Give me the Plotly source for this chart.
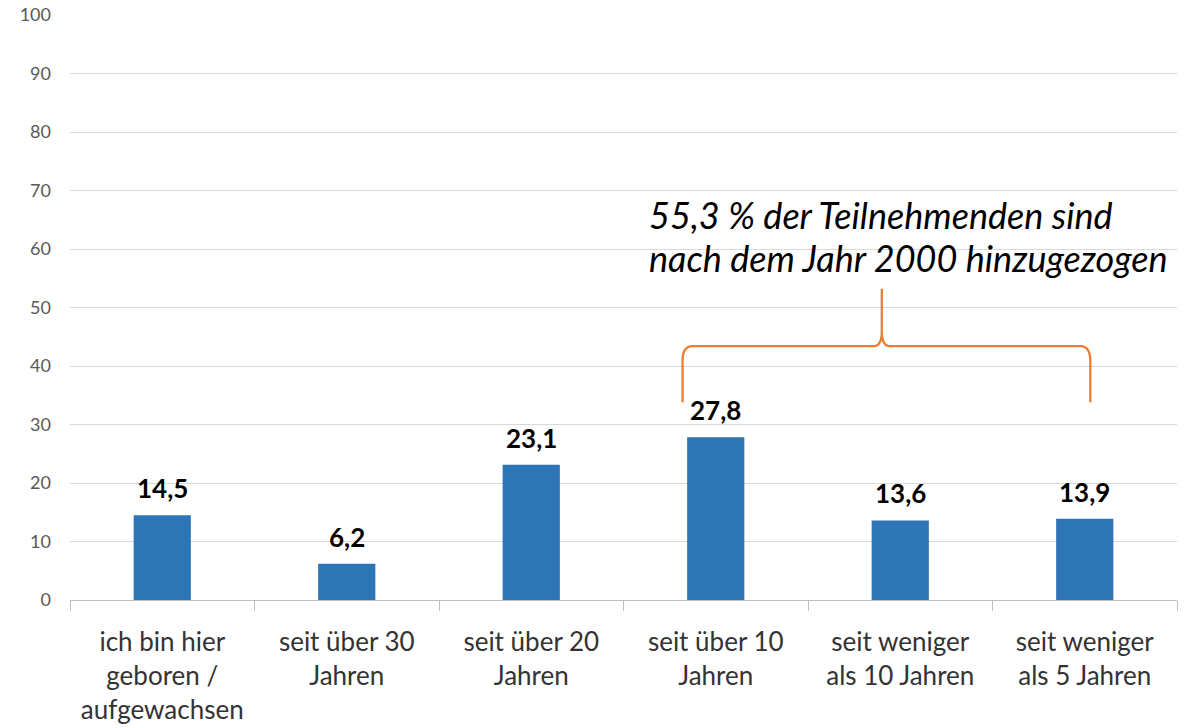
import plotly.graph_objects as go

categories = ["ich bin hier<br>geboren /<br>aufgewachsen", "seit über 30<br>Jahren", "seit über 20<br>Jahren",
              "seit über 10<br>Jahren", "seit weniger<br>als 10 Jahren", "seit weniger<br>als 5 Jahren"]
values = [14.5, 6.2, 23.1, 27.8, 13.6, 13.9]
labels = ["14,5", "6,2", "23,1", "27,8", "13,6", "13,9"]
y_ticks = [0, 10, 20, 30, 40, 50, 60, 70, 80, 90, 100]
note_lines = ["55,3 % der Teilnehmenden sind", "nach dem Jahr 2000 hinzugezogen"]
note_y = [65.8, 58.5]

# bracket geometry in category-index units (x) and data units (y)
br_left, br_mid, br_right = 2.82, 3.90, 5.03
br_bottom, br_bar, br_top = 33.8, 43.4, 53.2

FONT = "Lato"
n = len(categories)

def px(i):
    return (i + 0.5) / n

fig = go.Figure()
fig.add_trace(go.Bar(
    x=categories, y=values,
    marker=dict(color="#2E75B6", line=dict(width=0)), width=0.31, cliponaxis=False,
))
for c, v, t in zip(categories, values, labels):
    fig.add_annotation(x=c, y=v, text=t, showarrow=False, xanchor="center", yanchor="bottom",
                       yshift=9, font=dict(family=FONT, size=26, color="#000000", weight="bold"))

L, M, R = px(br_left), px(br_mid), px(br_right)
dx = 0.009
path = (f"M {L} {br_bottom} L {L} {br_bar-2.5} Q {L} {br_bar} {L+dx} {br_bar} "
        f"L {M-dx*0.8} {br_bar} Q {M} {br_bar} {M} {br_bar+2.5} L {M} {br_top} "
        f"M {M} {br_bar+2.5} Q {M} {br_bar} {M+dx*0.8} {br_bar} "
        f"L {R-dx} {br_bar} Q {R} {br_bar} {R} {br_bar-2.5} L {R} {br_bottom}")
fig.add_shape(type="path", path=path, xref="paper", yref="y",
              line=dict(color="#ED7D31", width=2.3))

for line, yv in zip(note_lines, note_y):
    fig.add_annotation(text="<i>" + line + "</i>", xref="paper", yref="y",
                       x=px(2.625), y=yv, xanchor="left", yanchor="middle", align="left",
                       showarrow=False, font=dict(family=FONT, size=36, color="#000000"))

fig.update_layout(
    width=1191, height=728, margin=dict(l=70, r=14, t=15, b=128),
    paper_bgcolor="white", plot_bgcolor="white", showlegend=False,
    font=dict(family=FONT),
)
fig.update_yaxes(range=[0, 100], tickvals=y_ticks, gridcolor="#D9D9D9", gridwidth=1,
                 showline=False, zeroline=False, ticks="", ticklabelstandoff=18,
                 automargin=False, ticklabeloverflow="allow",
                 tickfont=dict(family=FONT, size=18, color="#595959"))
fig.update_xaxes(type="category", showline=True, linecolor="#BFBFBF", linewidth=1,
                 ticks="outside", tickson="boundaries", ticklen=10, tickcolor="#BFBFBF",
                 showgrid=False, automargin=False,
                 tickfont=dict(family=FONT, size=26, color="#333333"),
                 ticklabelstandoff=19)

fig.write_html("out.html", config={"displayModeBar": False},
               post_script="document.body.style.margin='0';")
